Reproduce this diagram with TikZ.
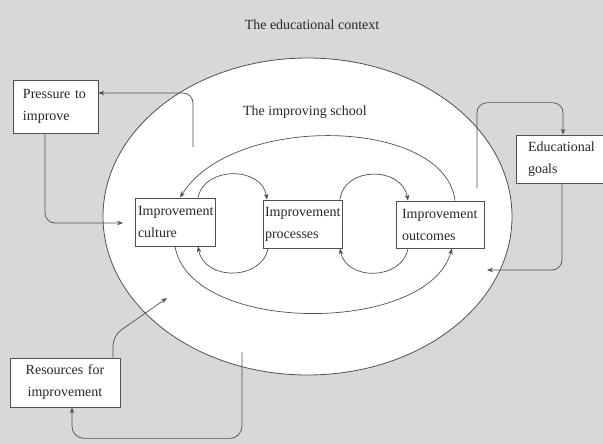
\documentclass[tikz,border=0pt]{standalone}
\usepackage{fontspec}
\setmainfont{Liberation Serif}
\usepackage{tikz}
\usetikzlibrary{arrows.meta}
\tikzset{>={Stealth[length=6pt,width=4.5pt]}}
\definecolor{linegray}{RGB}{80,80,80}
\definecolor{textgray}{RGB}{40,40,40}
\definecolor{context}{RGB}{216,216,216}
\tikzset{
	box/.style={draw=linegray, fill=white, line width=0.7pt, inner ysep=0pt, align=left,
		text=textgray, font=\fontsize{14}{22}\selectfont},
	link/.style={draw=linegray, line width=0.7pt, ->, rounded corners=10pt},
	label/.style={text=textgray, font=\fontsize{14}{16}\selectfont}
}

\begin{document}
\begin{tikzpicture}[x=1pt,y=-1pt]
	\useasboundingbox (0,0) rectangle (603,444);
	\fill[context] (0,0) rectangle (603,444);
	% the improving school
	\draw[linegray, line width=0.8pt, fill=white] (307.5,216.5) ellipse [x radius=204.5, y radius=158.5];
	\node[label] (ctxlabel) at (312,25) {The educational context};
	\node[label] (schoollabel) at (305,112) {The improving school};

	% boxes
	\node[box, inner xsep=3pt, text width=74pt, minimum height=48pt] (culture) at (175,222) {Improvement\\culture};
	\node[box, inner xsep=2pt, text width=75pt, minimum height=48pt] (processes) at (302.5,224) {Improvement\\processes};
	\node[box, inner xsep=6pt, text width=76pt, minimum height=47pt] (outcomes) at (440,224.5) {Improvement\\outcomes};
	\node[box, inner xsep=10pt, text width=65pt, minimum height=53pt] (pressure) at (55.5,106.5) {Pressure to\\improve};
	\node[box, inner xsep=12pt, text width=71pt, minimum height=48pt] (goals) at (563.5,159) {Educational\\goals};
	\node[box, inner xsep=10pt, text width=90pt, minimum height=49pt, align=center] (resources) at (65,382.5) {Resources for\\improvement};

	% free ends
	\coordinate (pressout) at (193,147);
	\coordinate (pressin) at (123,223);
	\coordinate (goalsout) at (477,188);
	\coordinate (goalsin) at (487,270);
	\coordinate (resout) at (242,352);
	\coordinate (resin) at (167,298);

	% inner ring
	\draw[link] ([xshift=15pt]outcomes.north) .. controls (445,117) and (232,113) .. ([xshift=5pt]culture.north);
	\draw[link] (culture.south) .. controls (190,335) and (428,335) .. ([xshift=12pt]outcomes.south);
	\draw[link] ([xshift=23pt]culture.north) .. controls (204,166) and (262,166) .. ([xshift=-35.5pt]processes.north);
	\draw[link] ([xshift=37.5pt]processes.north) .. controls (344,166) and (402,166) .. ([xshift=-32pt]outcomes.north);
	\draw[link] ([xshift=-34.5pt]processes.south) .. controls (262,281) and (204,281) .. ([xshift=23pt]culture.south);
	\draw[link] ([xshift=-32pt]outcomes.south) .. controls (402,281) and (346,281) .. ([xshift=37.5pt]processes.south);

	% context
	\draw[link] (pressout) |- ([yshift=13.5pt]pressure.east);
	\draw[link] ([xshift=-10.5pt]pressure.south) |- (pressin);
	\draw[link] (goalsout) |- ([xshift=-0.5pt,yshift=32pt]goals.north) -- ([xshift=-0.5pt]goals.north);
	\draw[link] ([xshift=-1.5pt]goals.south) |- (goalsin);
	\draw[link] ([xshift=48pt]resources.north) -- ++(0,-22) -- (resin);
	\draw[link, rounded corners=12pt] (resout) |- ([xshift=7pt,yshift=-31pt]resources.south) -- ([xshift=7pt]resources.south);
\end{tikzpicture}
\end{document}
